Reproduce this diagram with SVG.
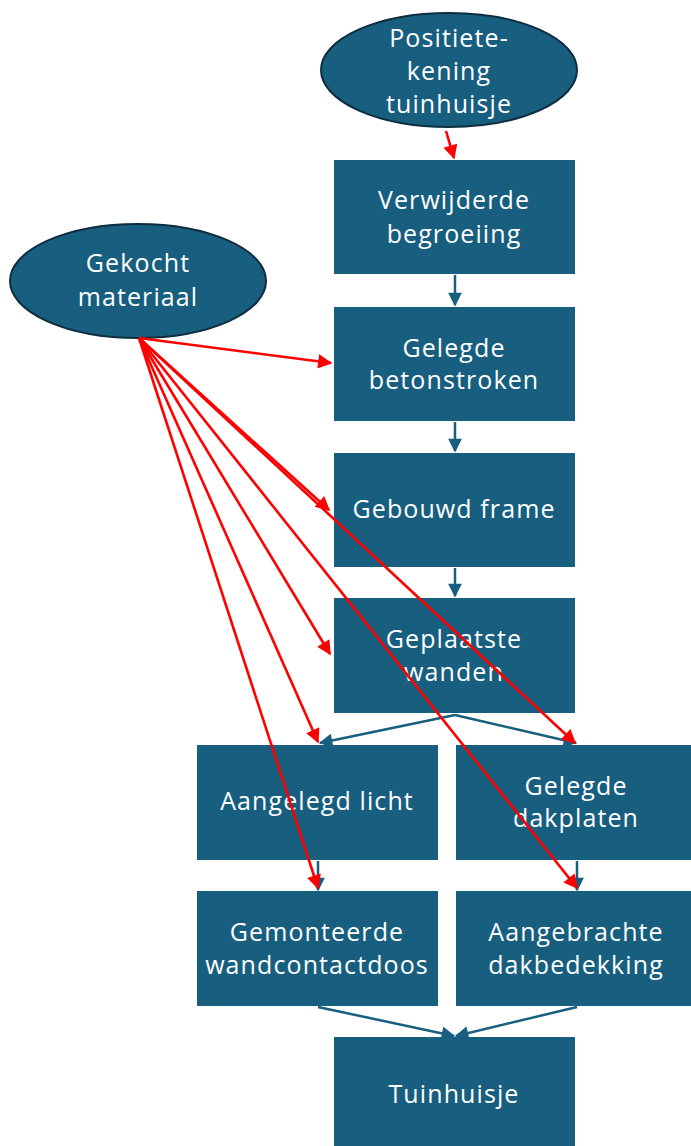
<svg xmlns="http://www.w3.org/2000/svg" width="691" height="1146" viewBox="0 0 691 1146">
<defs>
<style>
.box{fill:#175e7f;}
.ell{fill:#175e7f;stroke:#0e2e3f;stroke-width:2;}
.t{fill:#ffffff;font-family:"Open Sans","Noto Sans",sans-serif;font-size:25px;letter-spacing:1.1px;text-anchor:middle;}
.red{stroke:#ff0000;stroke-width:2.6;fill:none;marker-end:url(#ar);}
.blue{stroke:#175e7f;stroke-width:2.5;fill:none;marker-end:url(#ab);}
</style>
<marker id="ar" viewBox="0 0 10 10" refX="9" refY="5" markerWidth="6" markerHeight="5.5" orient="auto" markerUnits="strokeWidth"><path d="M0,0 L10,5 L0,10 z" fill="#ff0000"/></marker>
<marker id="ab" viewBox="0 0 10 10" refX="9" refY="5" markerWidth="6" markerHeight="5.5" orient="auto" markerUnits="strokeWidth"><path d="M0,0 L10,5 L0,10 z" fill="#175e7f"/></marker>
</defs>
<g id="n-positie"><ellipse class="ell" cx="449" cy="70" rx="128" ry="57"/><text class="t" x="449" y="47">Positiete-</text><text class="t" x="449" y="80">kening</text><text class="t" x="449" y="113">tuinhuisje</text></g>
<g id="n-gekocht"><ellipse class="ell" cx="138" cy="281" rx="128" ry="57"/><text class="t" x="138" y="272">Gekocht</text><text class="t" x="138" y="306">materiaal</text></g>
<g id="n-verwijderd"><rect class="box" x="334" y="160" width="241" height="114"/><text class="t" x="454" y="209">Verwijderde</text><text class="t" x="454" y="243">begroeiing</text></g>
<g id="n-beton"><rect class="box" x="334" y="307" width="241" height="114"/><text class="t" x="454" y="357">Gelegde</text><text class="t" x="454" y="389">betonstroken</text></g>
<g id="n-frame"><rect class="box" x="334" y="453" width="241" height="114"/><text class="t" x="454" y="518">Gebouwd frame</text></g>
<g id="n-wanden"><rect class="box" x="334" y="598" width="241" height="115"/><text class="t" x="454" y="648">Geplaatste</text><text class="t" x="454" y="681">wanden</text></g>
<g id="n-licht"><rect class="box" x="197" y="745" width="241" height="115"/><text class="t" x="317" y="810">Aangelegd licht</text></g>
<g id="n-dakplaten"><rect class="box" x="456" y="745" width="235" height="115"/><text class="t" x="576" y="795">Gelegde</text><text class="t" x="576" y="827">dakplaten</text></g>
<g id="n-wcd"><rect class="box" x="197" y="891" width="241" height="115"/><text class="t" x="317" y="941">Gemonteerde</text><text class="t" x="317" y="974">wandcontactdoos</text></g>
<g id="n-dakbedekking"><rect class="box" x="456" y="891" width="235" height="115"/><text class="t" x="576" y="941">Aangebrachte</text><text class="t" x="576" y="974">dakbedekking</text></g>
<g id="n-tuinhuisje"><rect class="box" x="334" y="1037" width="241" height="109"/><text class="t" x="454" y="1103">Tuinhuisje</text></g>
<g id="connectors">
<line class="blue" x1="455" y1="275" x2="455" y2="305"/>
<line class="blue" x1="455" y1="422" x2="455" y2="451"/>
<line class="blue" x1="455" y1="568" x2="455" y2="596"/>
<line class="blue" x1="455" y1="715" x2="320" y2="743"/>
<line class="blue" x1="455" y1="715" x2="576" y2="743"/>
<line class="blue" x1="318" y1="861" x2="318" y2="890"/>
<line class="blue" x1="577" y1="861" x2="577" y2="890"/>
<line class="blue" x1="318" y1="1007" x2="454" y2="1036"/>
<line class="blue" x1="577" y1="1007" x2="456" y2="1036"/>
<line class="red" x1="446" y1="131" x2="454" y2="158"/>
<line class="red" x1="139" y1="338" x2="331" y2="363"/>
<line class="red" x1="139" y1="338" x2="329" y2="510"/>
<line class="red" x1="139" y1="338" x2="330" y2="654"/>
<line class="red" x1="139" y1="338" x2="318" y2="742"/>
<line class="red" x1="139" y1="338" x2="318" y2="888"/>
<line class="red" x1="139" y1="338" x2="575" y2="743"/>
<line class="red" x1="139" y1="338" x2="577" y2="888"/>
</g>
</svg>
